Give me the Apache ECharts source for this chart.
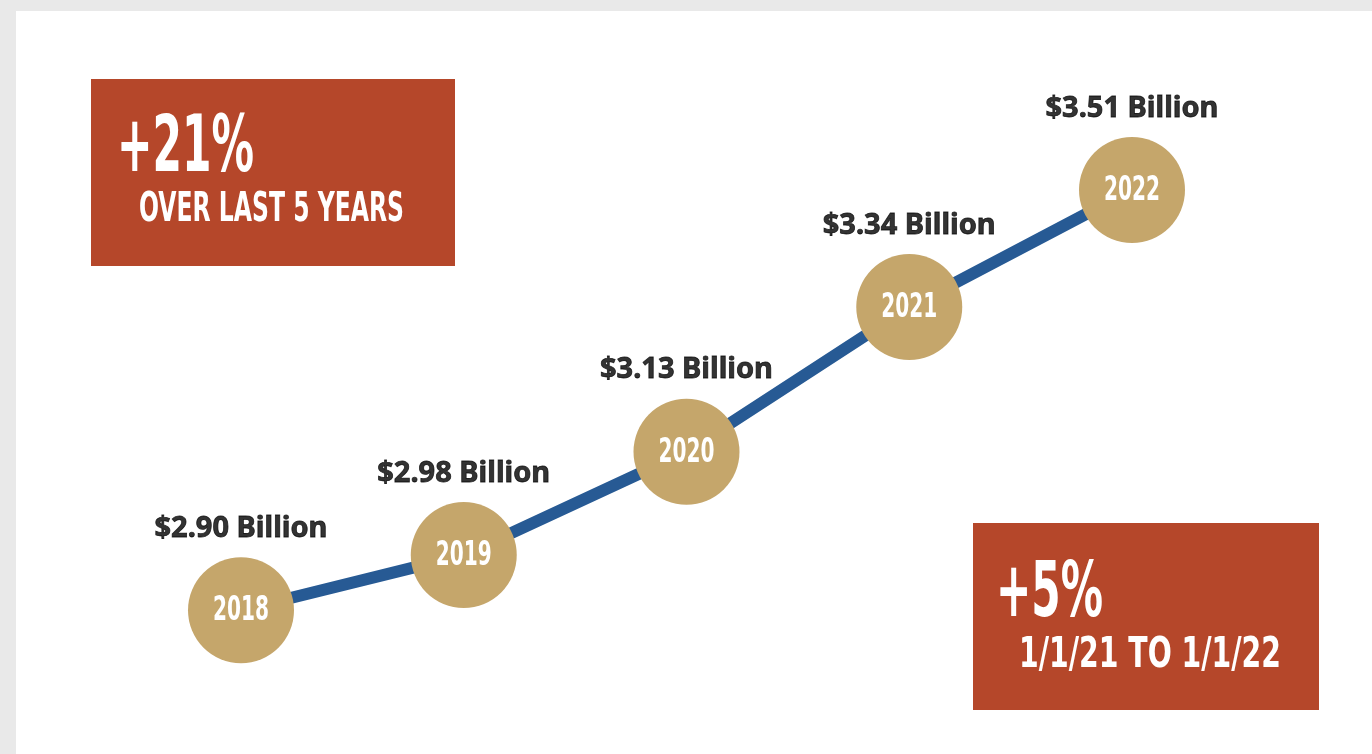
<!DOCTYPE html>
<html>
<head>
<meta charset="utf-8">
<script src="https://cdn.jsdelivr.net/npm/echarts@6/dist/echarts.min.js"></script>
<style>
  html, body { margin: 0; padding: 0; background: #e9e9e9; }
  #panel { position: absolute; left: 16px; top: 11px; width: 1356px; height: 743px; background: #fff; }
  #chart { position: absolute; left: 0; top: 0; width: 1372px; height: 754px; }
</style>
</head>
<body>
<div id="panel"></div>
<div id="chart"></div>
<script>
const years = ["2018", "2019", "2020", "2021", "2022"];
const values = [2.9, 2.98, 3.13, 3.34, 3.51];

const RED = "#b5472a";
const GOLD = "#c5a66b";
const BLUE = "#275a94";
const NARROW = "'Liberation Sans Narrow', 'DejaVu Sans Condensed', sans-serif";

// growth figures come from the data
const growthAll = Math.round((values[values.length - 1] / values[0] - 1) * 100);
const growthLast = Math.round((values[values.length - 1] / values[values.length - 2] - 1) * 100);

// squeeze condensed text to a target width
const measureCtx = document.createElement("canvas").getContext("2d");
const fitX = (text, font, width) => {
  measureCtx.font = font;
  return width / measureCtx.measureText(text).width;
};

const boxText = (text, x, y, size, width) => {
  const font = "bold " + size + "px " + NARROW;
  return {
    type: "text",
    x: x,
    y: y,
    scaleX: fitX(text, font, width),
    z: 10,
    style: {
      text: text,
      font: font,
      fill: "#fff",
      textAlign: "left",
      textVerticalAlign: "middle",
    },
  };
};

const YEAR_FONT = "bold 34px " + NARROW;

const chart = echarts.init(document.getElementById("chart"));
chart.setOption({
  animation: false,
  grid: { left: 241, right: 240, top: 59, bottom: 6 },
  xAxis: { type: "category", data: years, boundaryGap: false, show: false },
  yAxis: { type: "value", min: 2.7, max: 3.7, show: false },
  graphic: [
    { type: "rect", shape: { x: 91, y: 79, width: 364, height: 187 }, style: { fill: RED }, z: 5 },
    { type: "rect", shape: { x: 973, y: 523, width: 346, height: 187 }, style: { fill: RED }, z: 5 },
    boxText("+" + growthAll + "%", 117, 151, 78, 137),
    boxText("OVER LAST " + years.length + " YEARS", 139, 211, 40, 265),
    boxText("+" + growthLast + "%", 996, 596, 77, 107),
    boxText("1/1/" + years[3].slice(2) + " TO 1/1/" + years[4].slice(2), 1019, 656, 43, 262),
  ],
  series: [
    {
      type: "line",
      data: values,
      lineStyle: { color: BLUE, width: 12 },
      symbol: "none",
      z: 2,
    },
    {
      // gold discs with the year inside
      type: "custom",
      data: values.map((v, i) => [i, v]),
      encode: { x: 0, y: 1 },
      z: 3,
      renderItem: (params, api) => {
        const pt = api.coord([api.value(0), api.value(1)]);
        const label = years[params.dataIndex];
        return {
          type: "group",
          children: [
            { type: "circle", shape: { cx: pt[0], cy: pt[1], r: 53 }, style: { fill: GOLD } },
            {
              type: "text",
              x: pt[0],
              y: pt[1] + 1,
              scaleX: fitX(label, YEAR_FONT, 56),
              style: {
                text: label,
                font: YEAR_FONT,
                fill: "#fff",
                textAlign: "center",
                textVerticalAlign: "middle",
              },
            },
          ],
        };
      },
    },
    {
      type: "scatter",
      data: values,
      symbolSize: 106,
      itemStyle: { color: "rgba(0,0,0,0)" },
      silent: true,
      z: 4,
      label: {
        show: true,
        position: "top",
        distance: 14,
        formatter: (p) => "$" + p.value.toFixed(2) + " Billion",
        color: "#000",
        textBorderColor: "#000",
        textBorderWidth: 0.8,
        fontFamily: "'Noto Sans', 'Open Sans', sans-serif",
        fontWeight: "bold",
        fontSize: 29,
      },
    },
  ],
});
</script>
</body>
</html>
